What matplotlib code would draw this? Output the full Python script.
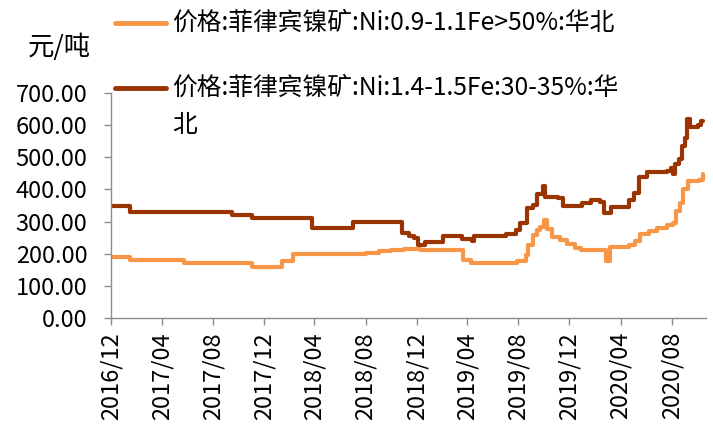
import numpy as np
import pandas as pd
import matplotlib
matplotlib.use("Agg")
import matplotlib.pyplot as plt
import matplotlib.dates as mdates
from matplotlib.lines import Line2D

plt.rcParams['font.family'] = ['Noto Sans CJK SC', 'DejaVu Sans']

# series 1: Ni 0.9-1.1, Fe>50% (light orange)
dates_low = ["2016-12-01", "2017-01-15", "2017-05-25", "2017-11-03", "2018-01-13",
             "2018-02-09", "2018-07-01", "2018-08-01", "2018-09-01", "2018-10-01",
             "2018-11-01", "2018-12-10", "2019-03-22", "2019-04-10", "2019-07-05",
             "2019-07-28", "2019-08-18", "2019-08-25", "2019-09-05", "2019-09-15",
             "2019-09-22", "2019-10-01", "2019-10-08", "2019-10-20", "2019-11-09",
             "2019-11-25", "2019-12-14", "2019-12-28", "2020-02-20", "2020-02-25",
             "2020-03-07", "2020-04-20", "2020-05-05", "2020-05-17", "2020-06-08",
             "2020-06-27", "2020-07-21", "2020-08-04", "2020-08-12", "2020-08-20",
             "2020-08-28", "2020-09-08", "2020-10-05", "2020-10-16"]
price_low = [190, 180, 170, 160, 178,
             199, 199, 203, 207, 211,
             214, 212, 180, 170, 170,
             176, 196, 228, 258, 275,
             283, 305, 278, 252, 243,
             230, 218, 212, 212, 178,
             222, 228, 240, 260, 272,
             280, 288, 296, 332, 358,
             402, 426, 430, 448]

# series 2: Ni 1.4-1.5, Fe 30-35% (dark brown)
dates_high = ["2016-12-01", "2017-01-15", "2017-09-17", "2017-11-03", "2018-03-26",
              "2018-07-01", "2018-10-28", "2018-11-12", "2018-11-25", "2018-12-03",
              "2018-12-21", "2019-02-01", "2019-03-20", "2019-04-12", "2019-04-18",
              "2019-07-03", "2019-07-27", "2019-08-04", "2019-08-21", "2019-09-05",
              "2019-09-14", "2019-09-28", "2019-10-04", "2019-11-04", "2019-11-16",
              "2020-01-01", "2020-01-22", "2020-02-12", "2020-02-22", "2020-03-10",
              "2020-04-20", "2020-05-02", "2020-05-15", "2020-06-03", "2020-07-21",
              "2020-07-30", "2020-08-03", "2020-08-08", "2020-08-18", "2020-08-25",
              "2020-09-02", "2020-09-07", "2020-09-14", "2020-10-03", "2020-10-10",
              "2020-10-16"]
price_high = [348, 330, 320, 311, 280,
              298, 266, 255, 248, 226,
              236, 256, 246, 240, 256,
              262, 275, 295, 342, 352,
              386, 412, 376, 372, 350,
              358, 366, 360, 326, 345,
              368, 390, 440, 455, 458,
              468, 448, 478, 495, 535,
              560, 620, 595, 600, 612,
              612]

labels = ["价格:菲律宾镍矿:Ni:0.9-1.1Fe>50%:华北",
          "价格:菲律宾镍矿:Ni:1.4-1.5Fe:30-35%:华\n北"]
colors = ["#F79646", "#9A3400"]

y_ticks = np.arange(0, 701, 100)
x_ticks = ["2016-12", "2017-04", "2017-08", "2017-12", "2018-04", "2018-08",
           "2018-12", "2019-04", "2019-08", "2019-12", "2020-04", "2020-08"]

fig = plt.figure(figsize=(7.13, 4.28), dpi=100)
ax = fig.add_axes([111/713, 1-318/428, (706-111)/713, (318-93)/428])

ax.plot(pd.to_datetime(dates_low), price_low, drawstyle="steps-post",
        color=colors[0], lw=3.0, solid_joinstyle="round", solid_capstyle="round")
ax.plot(pd.to_datetime(dates_high), price_high, drawstyle="steps-post",
        color=colors[1], lw=3.0, solid_joinstyle="round", solid_capstyle="round")

ax.set_ylim(0, 700)
ax.set_xlim(pd.Timestamp("2016-12-01"), pd.Timestamp("2020-10-22"))
ax.set_yticks(y_ticks)
ax.set_yticklabels(["%.2f" % v for v in y_ticks])
ax.set_xticks(pd.to_datetime(x_ticks))
ax.xaxis.set_major_formatter(mdates.DateFormatter("%Y/%m"))
plt.setp(ax.get_xticklabels(), rotation=90)

for s in ["top", "right"]:
    ax.spines[s].set_visible(False)
for s in ["left", "bottom"]:
    ax.spines[s].set_color("#8c8c8c")
    ax.spines[s].set_linewidth(1.0)
ax.tick_params(axis="both", colors="#8c8c8c", labelcolor="black", labelsize=17,
               length=5, width=1.0, direction="out")
ax.tick_params(axis="x", pad=5)
ax.tick_params(axis="y", pad=12)

fig.text(28/713, 1-47/428, "元/吨", fontsize=19, va="center", ha="left")

# legend drawn by hand so the swatch sits on the first text line
legend_y = [23, 88]
for lab, col, yy in zip(labels, colors, legend_y):
    fig.add_artist(Line2D([115/713, 166/713], [1-yy/428, 1-yy/428],
                          transform=fig.transFigure, color=col, lw=3.5,
                          solid_capstyle="round"))
    fig.text(172/713, 1-(yy-13.5)/428, lab, fontsize=17.8, va="top", ha="left",
             linespacing=1.59)

fig.savefig("out.png", dpi=100)
